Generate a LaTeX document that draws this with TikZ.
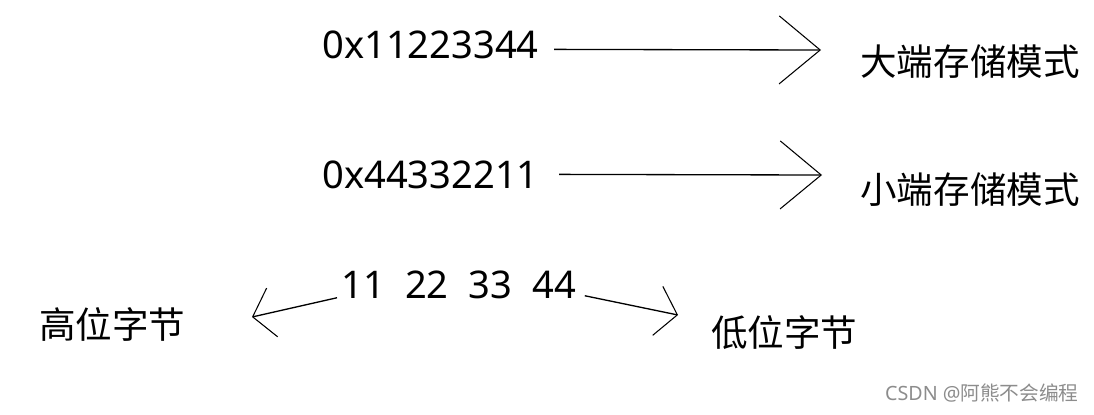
\documentclass[tikz,border=0pt]{standalone}
\usepackage{fontspec}
\setmainfont{Noto Sans}
\newfontfamily\cjk{Noto Sans CJK SC}
\usetikzlibrary{arrows.meta}

\begin{document}
\begin{tikzpicture}[x=0.02cm,y=-0.02cm,
  txt/.style={inner sep=0pt,font=\fontsize{21.7}{25}\selectfont},
  cjktxt/.style={txt,font=\fontsize{20.8}{25}\selectfont\cjk},
  longbarb/.style={line width=0.75pt,-{Straight Barb[length=0.82cm,width=1.36cm,line width=0.6pt]}},
  shortbarb/.style={line width=0.75pt,-{Straight Barb[length=0.4cm,width=1.0cm,line width=0.6pt]}}]
\useasboundingbox (0,0) rectangle (1094,414);

\path (322,58) node[txt,anchor=base west](big){0x11223344} ;
\path (860,62) node[cjktxt,anchor=west](bigmode){大端存储模式} ;
\path (322,188) node[txt,anchor=base west](little){0x44332211} ;
\path (860,190) node[cjktxt,anchor=west](littlemode){小端存储模式} ;

\path (341,298) node[txt,anchor=base west](bytes){{\spaceskip=0.53em 11 22 33 44}} ;
\path (39,324) node[cjktxt,anchor=west](high){高位字节} ;
\path (711,333) node[cjktxt,anchor=west](low){低位字节} ;

\coordinate (bigtip) at (821,50);
\coordinate (littletip) at (822,175);
\coordinate (hightip) at (252,317);
\coordinate (lowtip) at (678,315);

\draw[longbarb] ([shift={(15,5)}]big.east) -- (bigtip);
\draw[longbarb] ([shift={(20,0)}]little.east) -- (littletip);
\draw[shortbarb] ([shift={(-4,-1)}]bytes.south west) -- (hightip);
\draw[shortbarb] ([shift={(8,-3)}]bytes.south east) -- (lowtip);

\path (1079,393) node[inner sep=0pt,anchor=east,black!45,font=\fontsize{11.2}{13}\selectfont](mark){CSDN @{\cjk 阿熊不会编程}} ;

\end{tikzpicture}
\end{document}
